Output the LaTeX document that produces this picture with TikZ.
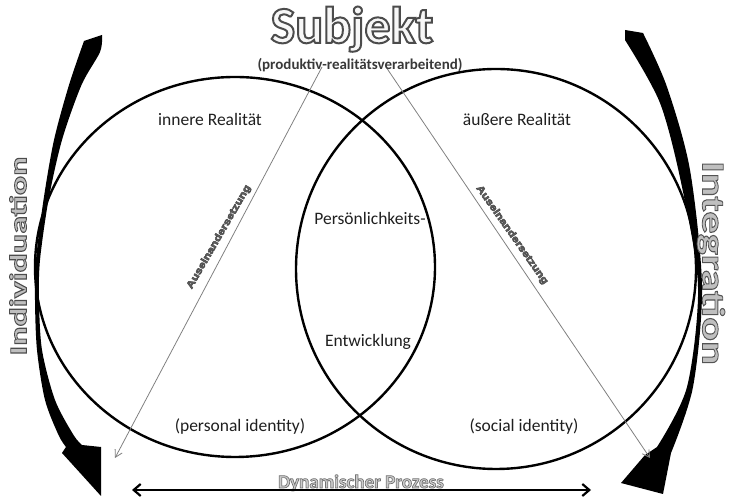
\documentclass[tikz,border=0pt]{standalone}
\usepackage{fontspec}
\usepackage{graphicx}
\setmainfont{Carlito}
\newfontfamily\arialfont{Liberation Sans}
\usetikzlibrary{arrows.meta,calc}
% #1 stroke gray level, #2 stroke width, #3 text
\newcommand{\strokedtext}[3]{\special{pdf:literal direct 2 Tr #2 w #1 G}#3\special{pdf:literal direct 0 Tr}}
\begin{document}
\begin{tikzpicture}[x=1pt,y=1pt,
  circ/.style={draw=black, line width=2.4pt},
  lbl/.style={font=\fontsize{17.5}{20}\selectfont, text=black!88, inner sep=0pt, anchor=base},
  guide/.style={draw=black!50, line width=0.8pt, -{Straight Barb[length=7pt,width=8pt]}},
  prodstyle/.style={font=\bfseries\fontsize{15}{18}\selectfont, text=black!78, anchor=base, inner sep=0pt},
  aus/.style={font=\arialfont\bfseries\fontsize{10}{11}\selectfont, text=black!62, inner sep=0pt},
  crescent/.style={fill=black},
  dynarrow/.style={line width=2.2pt, {Straight Barb[length=7pt,width=12pt]}-{Straight Barb[length=7pt,width=12pt]}}]
\useasboundingbox (0,0) rectangle (733,497);

% big crescent arrows
\fill[crescent] (102,462) -- plot[smooth] coordinates {(102,462) (100,445) (81.5,412) (62,357) (48.5,297) (40,237) (39,197) (42,147) (55,97) (73.5,62) (82,52)} -- (101,50) -- (101,1) -- (62,44) -- plot[smooth] coordinates {(66,50) (58.5,62) (45,97) (37,147) (35,197) (36,237) (43.5,297) (54,357) (69,412) (84,456)} -- cycle;
\fill[crescent] (625,467) -- plot[smooth] coordinates {(643,464) (667,410) (690,327) (702,210) (693,110) (671,44)} -- (663,3) -- (621,14) -- (645,42) -- plot[smooth] coordinates {(657,50) (687,110) (698,210) (682,310) (660,394) (625,457)} -- cycle;

% circles
\draw[circ] (235,230) ellipse [x radius=200, y radius=190];
\draw[circ] (496,228) ellipse [x radius=200, y radius=200];

% guide lines
\coordinate (g1s) at (322,430);
\coordinate (g1e) at (115,39);
\coordinate (g2s) at (386,430);
\coordinate (g2e) at (650,39);
\draw[guide] (g1s) -- (g1e);
\draw[guide] (g2s) -- (g2e);

% labels in circles
\node[lbl] (inner) at (210,371) {innere Realität};
\node[lbl] (outer) at (517,371) {äußere Realität};
\node[lbl] (pers) at (370,272) {Persönlichkeits-};
\node[lbl] (entw) at (368,150) {Entwicklung};
\node[lbl] (pid) at (240,65) {(personal identity)};
\node[lbl] (sid) at (524,65) {(social identity)};

% Subjekt
\node[font=\bfseries\fontsize{52}{60}\selectfont, text=gray!6, inner sep=0pt, anchor=base] (subj) at (352,454) {\strokedtext{0.3}{2}{Subjekt}};
\node[prodstyle] (prod) at (360,427) {(produktiv-realitätsverarbeitend)};

% Auseinandersetzung
\node[aus, rotate=60] (aus1) at (219,260) {\strokedtext{0.3}{0.5}{\scalebox{1.2}[1]{Auseinandersetzung}}};
\node[aus, rotate=-55] (aus2) at (512,262) {\strokedtext{0.3}{0.5}{\scalebox{1.2}[1]{Auseinandersetzung}}};

% side words
\node[font=\bfseries\fontsize{24}{28}\selectfont, text=gray!50, inner sep=0pt, rotate=90] (indiv) at (18,241) {\strokedtext{0.3}{0.8}{\scalebox{1.5}[1]{Individuation}}};
\node[font=\bfseries\fontsize{32}{36}\selectfont, text=gray!50, inner sep=0pt, rotate=-90] (integ) at (711,234) {\strokedtext{0.33}{0.8}{\scalebox{1.39}[1]{Integration}}};

% Dynamischer Prozess
\node[font=\bfseries\fontsize{19}{22}\selectfont, text=gray!40, inner sep=0pt, anchor=base] (dyn) at (361,9) {\strokedtext{0.45}{0.7}{Dynamischer Prozess}};
\coordinate (dl) at (132,7);
\coordinate (dr) at (591,7);
\draw[dynarrow] (dl) -- (dr);
\end{tikzpicture}
\end{document}
